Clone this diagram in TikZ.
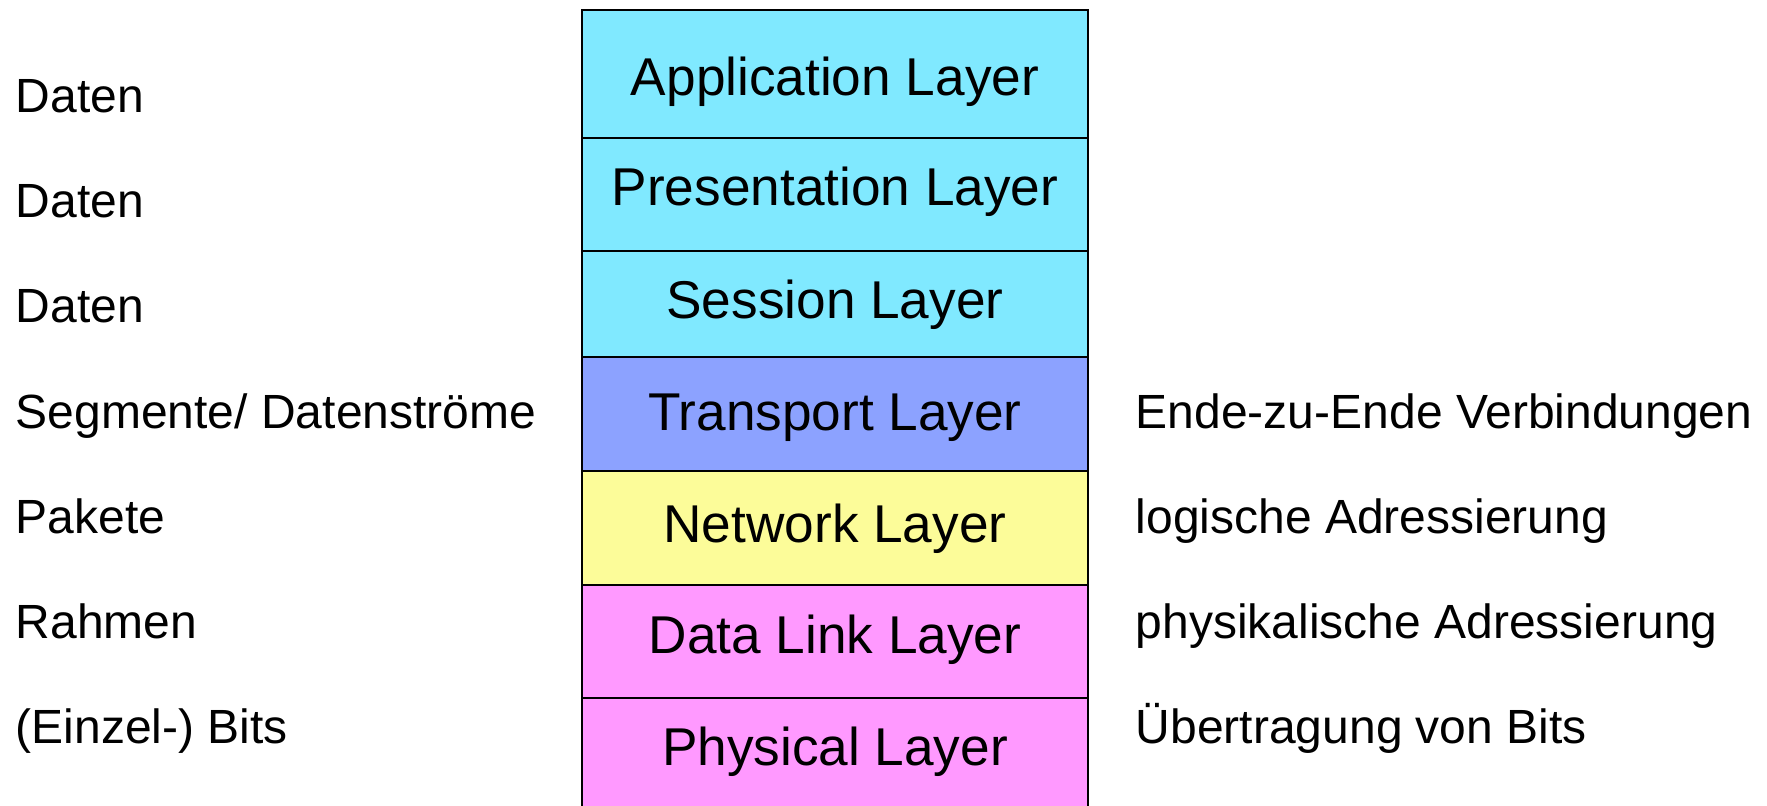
\documentclass[tikz,border=0pt]{standalone}
\usepackage{fontspec}
\setmainfont{Liberation Sans}

\definecolor{appcyan}{RGB}{128,233,255}
\definecolor{transblue}{RGB}{140,162,255}
\definecolor{netyellow}{RGB}{252,252,153}
\definecolor{linkpink}{RGB}{255,153,255}

\tikzset{
  layer/.style={draw=black,line width=1pt,minimum width=253pt,inner sep=0pt,anchor=north},
  layertext/.style={font=\fontsize{26.6}{30}\selectfont,anchor=base,inner sep=0pt},
  side/.style={font=\fontsize{24}{28}\selectfont,anchor=base west,inner sep=0pt}
}

\begin{document}
\begin{tikzpicture}[x=0.5pt,y=-0.5pt]
\useasboundingbox (0,0) rectangle (1767,805);
\clip (0,0) rectangle (1767,805);

% the stack of layers
\node[layer,fill=appcyan,minimum height=64pt] (app) at (835,9) {};
\node[layer,fill=appcyan,minimum height=56.5pt] (pres) at (835,137) {};
\node[layer,fill=appcyan,minimum height=53pt] (sess) at (835,250) {};
\node[layer,fill=transblue,minimum height=57pt] (trans) at (835,356) {};
\node[layer,fill=netyellow,minimum height=57pt] (net) at (835,470) {};
\node[layer,fill=linkpink,minimum height=56.5pt] (link) at (835,584) {};
\node[layer,fill=linkpink,minimum height=60pt] (phys) at (835,697) {};

\node[layertext] (apptxt) at (835,95) {Application Layer};
\node[layertext] (prestxt) at (835,205) {Presentation Layer};
\node[layertext] (sesstxt) at (835,318) {Session Layer};
\node[layertext] (transtxt) at (835,430) {Transport Layer};
\node[layertext] (nettxt) at (835,542) {Network Layer};
\node[layertext] (linktxt) at (835,653) {Data Link Layer};
\node[layertext] (phystxt) at (835,765) {Physical Layer};

% data units, left
\node[side] (pduapp) at (15.5,112) {Daten};
\node[side] (pdupres) at (15.5,217) {Daten};
\node[side] (pdusess) at (15.5,322) {Daten};
\node[side] (pdutrans) at (15.5,428) {Segmente/ Datenströme};
\node[side] (pdunet) at (15.5,533) {Pakete};
\node[side] (pdulink) at (15.5,638) {Rahmen};
\node[side] (pduphys) at (15.5,743) {(Einzel-) Bits};

% tasks, right
\node[side] (tasktrans) at (1135.5,428) {Ende-zu-Ende Verbindungen};
\node[side] (tasknet) at (1135.5,533) {logische Adressierung};
\node[side] (tasklink) at (1135.5,638) {physikalische Adressierung};
\node[side] (taskphys) at (1135.5,743) {Übertragung von Bits};
\end{tikzpicture}
\end{document}
